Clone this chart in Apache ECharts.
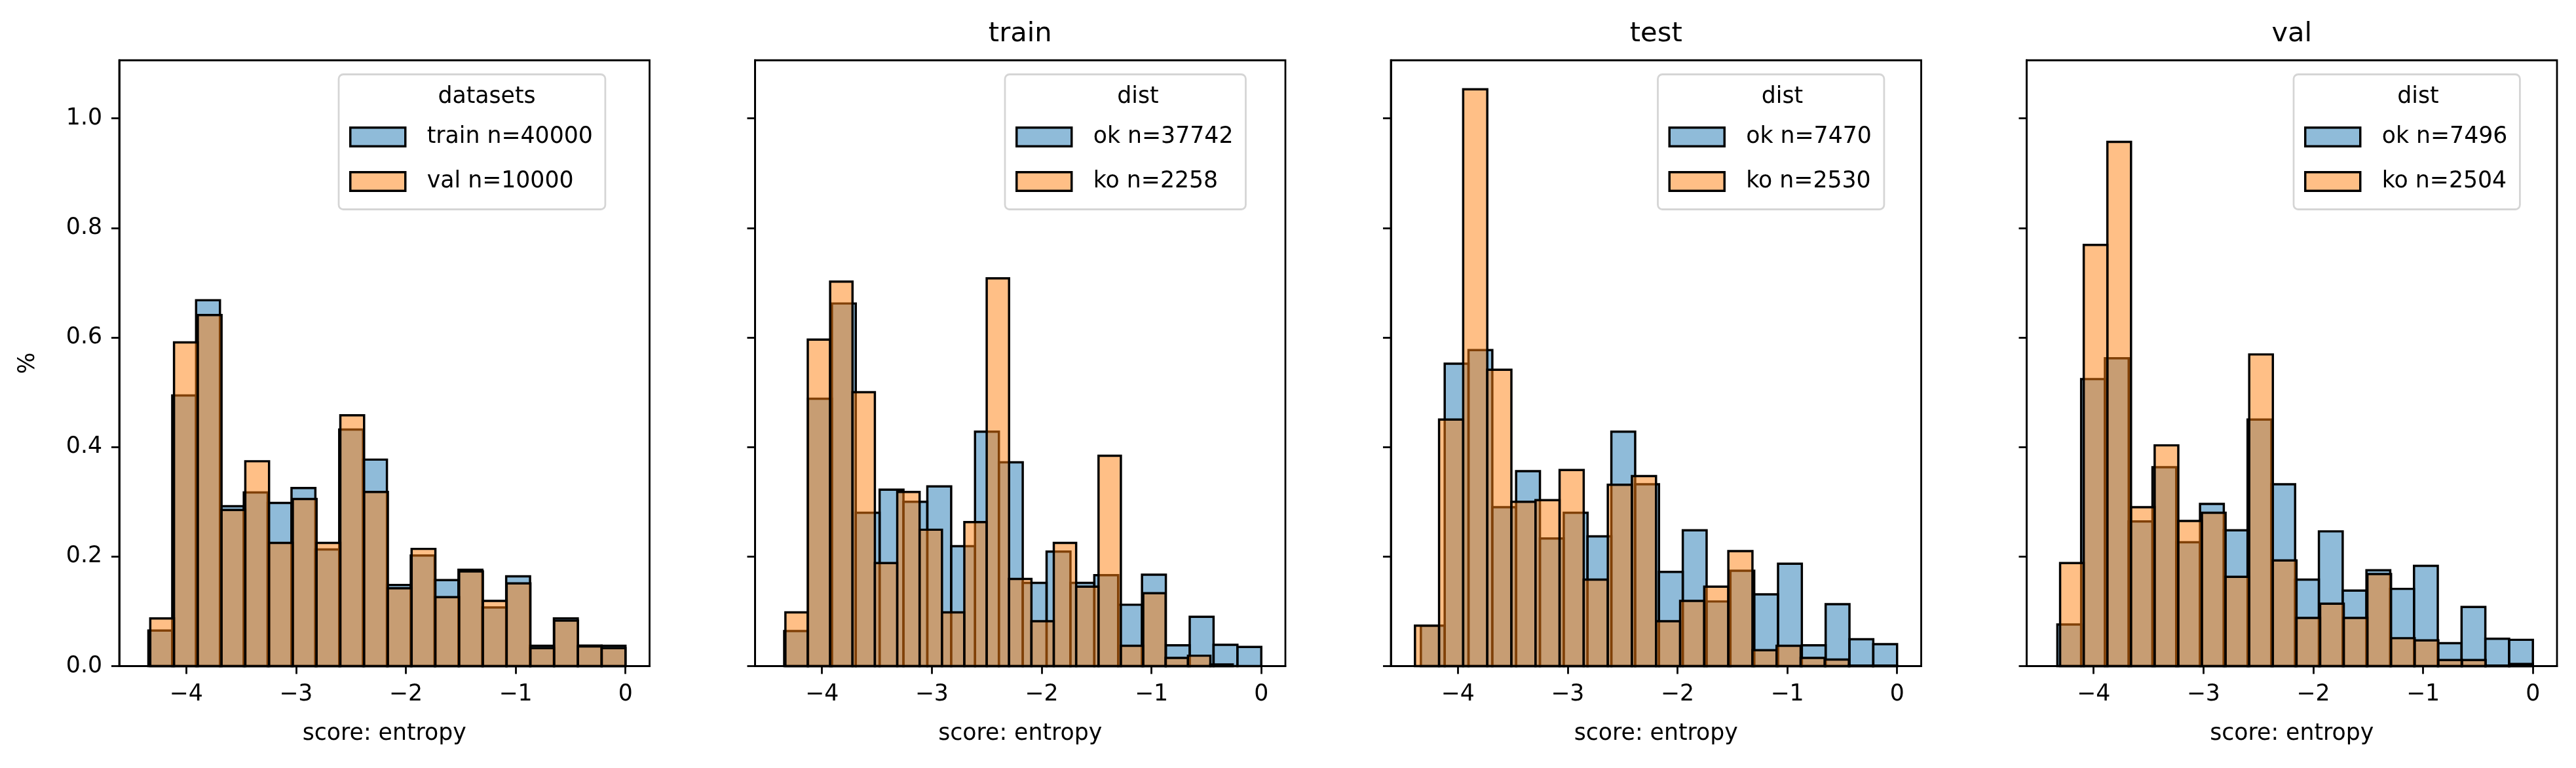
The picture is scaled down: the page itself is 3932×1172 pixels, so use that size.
<!DOCTYPE html>
<html>
<head>
<meta charset="utf-8">
<style>html,body{margin:0;padding:0;background:#fff}#c{width:3932px;height:1172px}</style>
<script src="https://cdn.jsdelivr.net/npm/echarts@6/dist/echarts.min.js"></script>
</head>
<body>
<div id="c"></div>
<script>
// ---- data ----
const xTicks = [-4, -3, -2, -1, 0];
const yTicks = [0, 0.2, 0.4, 0.6, 0.8, 1.0];
const xRange = [-4.6095, 0.2195];
const yRange = [0, 1.106];
const xLabel = 'score: entropy';
const yLabel = '%';
const panelTitles = ['', 'train', 'test', 'val'];
const legendTitles = ['datasets', 'dist', 'dist', 'dist'];

const p1aName = 'train n=40000';
const p1aBins = [-4.344, 0];
const p1aValues = [.065,.494,.668,.292,.317,.298,.325,.213,.432,.377,.148,.202,.157,.176,.107,.164,.037,.087,.0375,.037];
const p1bName = 'val n=10000';
const p1bBins = [-4.327, 0];
const p1bValues = [.087,.591,.641,.285,.374,.225,.305,.225,.458,.318,.142,.214,.126,.173,.119,.151,.033,.083,.036,.033];

const p2aName = 'ok n=37742';
const p2aBins = [-4.344, 0];
const p2aValues = [.064,.488,.662,.28,.322,.30,.328,.219,.428,.372,.152,.209,.152,.166,.112,.167,.038,.09,.039,.035];
const p2bName = 'ko n=2258';
const p2bBins = [-4.333, -0.26];
const p2bValues = [.098,.596,.702,.50,.188,.318,.249,.098,.263,.708,.159,.082,.225,.145,.384,.037,.133,.015,.019,.003];

const p3aName = 'ok n=7470';
const p3aBins = [-4.336, 0];
const p3aValues = [.074,.552,.577,.29,.356,.233,.28,.237,.428,.332,.172,.248,.118,.174,.131,.187,.038,.113,.049,.04];
const p3bName = 'ko n=2530';
const p3bBins = [-4.39, 0];
const p3bValues = [.074,.45,1.053,.541,.30,.303,.358,.158,.331,.347,.082,.119,.145,.21,.029,.037,.015,.012,.001,.001];

const p4aName = 'ok n=7496';
const p4aBins = [-4.33, 0];
const p4aValues = [.076,.524,.562,.264,.363,.226,.296,.248,.45,.332,.158,.246,.138,.175,.141,.183,.042,.108,.05,.048];
const p4bName = 'ko n=2504';
const p4bBins = [-4.305, 0];
const p4bValues = [.188,.769,.957,.29,.403,.265,.28,.163,.569,.193,.088,.114,.088,.168,.051,.047,.011,.011,.001,.004];

// ---- layout and style ----
const FONT = 'DejaVu Sans';
const FS = 34.7, TFS = 41.6, LW = 3.47, AW = 2.78;
const BLUE = 'rgba(31,119,180,0.5)', ORANGE = 'rgba(255,127,14,0.5)';
const gridLeft = [182, 1152.5, 2123, 3093.5];
const gridWidth = 809.5, gridTop = 92, gridHeight = 924.5;
const legendBox = [
  {left: 517, title: 743},
  {left: 1534, title: 1737},
  {left: 2530.5, title: 2720.5},
  {left: 3501, title: 3691}
];
const panels = [
  [[p1aName, p1aBins, p1aValues], [p1bName, p1bBins, p1bValues]],
  [[p2aName, p2aBins, p2aValues], [p2bName, p2bBins, p2bValues]],
  [[p3aName, p3aBins, p3aValues], [p3bName, p3bBins, p3bValues]],
  [[p4aName, p4aBins, p4aValues], [p4bName, p4bBins, p4bValues]]
];

function rows(bins, values) {
  const w = (bins[1] - bins[0]) / values.length;
  return values.map((v, i) => [bins[0] + i * w, bins[0] + (i + 1) * w, v]);
}
function renderBar(color) {
  return function (params, api) {
    const a = api.coord([api.value(0), api.value(2)]);
    const b = api.coord([api.value(1), 0]);
    return {
      type: 'rect',
      shape: {x: a[0], y: a[1], width: b[0] - a[0], height: b[1] - a[1]},
      style: {fill: color, stroke: '#000', lineWidth: LW}
    };
  };
}

const grid = [], xAxis = [], yAxis = [], series = [], legend = [], title = [];
panels.forEach((panel, p) => {
  grid.push({left: gridLeft[p], top: gridTop, width: gridWidth, height: gridHeight,
    show: true, borderColor: '#000', borderWidth: AW, backgroundColor: 'transparent'});
  xAxis.push({
    type: 'value', gridIndex: p, min: xRange[0], max: xRange[1], z: 5,
    name: xLabel, nameLocation: 'middle', nameGap: 86,
    nameTextStyle: {fontFamily: FONT, fontSize: FS, color: '#000'},
    splitLine: {show: false},
    axisLine: {show: true, onZero: false, lineStyle: {color: '#000', width: AW}},
    axisTick: {show: true, length: 12, customValues: xTicks, lineStyle: {color: '#000', width: AW}},
    axisLabel: {show: true, customValues: xTicks, margin: 26, fontFamily: FONT, fontSize: FS, color: '#000',
      formatter: v => String(v).replace('-', '\u2212')}
  });
  yAxis.push({
    type: 'value', gridIndex: p, min: yRange[0], max: yRange[1], z: 5,
    name: p === 0 ? yLabel : '', nameLocation: 'middle', nameGap: 122,
    nameTextStyle: {fontFamily: FONT, fontSize: FS, color: '#000'},
    splitLine: {show: false},
    axisLine: {show: true, onZero: false, lineStyle: {color: '#000', width: AW}},
    axisTick: {show: true, length: 12, customValues: yTicks, lineStyle: {color: '#000', width: AW}},
    axisLabel: {show: p === 0, customValues: yTicks, margin: 26, fontFamily: FONT, fontSize: FS, color: '#000',
      formatter: v => v.toFixed(1)}
  });
  const colors = [BLUE, ORANGE];
  panel.forEach((h, k) => {
    series.push({
      type: 'custom', name: h[0], xAxisIndex: p, yAxisIndex: p, z: 2 + k, silent: true, clip: false,
      animation: false,
      data: rows(h[1], h[2]), encode: {x: [0, 1], y: 2},
      itemStyle: {color: colors[k], borderColor: '#000', borderWidth: LW},
      renderItem: renderBar(colors[k])
    });
  });
  legend.push({
    show: true, orient: 'vertical', left: legendBox[p].left, top: 113.5, icon: 'rect',
    selectedMode: false, itemWidth: 84, itemHeight: 28.5, itemGap: 33,
    padding: [78, 19, 25, 16], align: 'left',
    backgroundColor: 'rgba(255,255,255,0.8)', borderColor: '#d5d5d5', borderWidth: AW, borderRadius: 7,
    textStyle: {fontFamily: FONT, fontSize: FS, color: '#000', lineHeight: 28, padding: [0, 0, 0, 28]},
    data: panel.map((h, k) => ({name: h[0], icon: 'rect',
      itemStyle: {color: colors[k], borderColor: '#000', borderWidth: LW}}))
  });
  title.push({text: legendTitles[p], left: legendBox[p].title, top: 148, textAlign: 'center', textVerticalAlign: 'middle', padding: 0,
    textStyle: {fontFamily: FONT, fontSize: FS, fontWeight: 'normal', color: '#000'}});
  if (panelTitles[p]) {
    title.push({text: panelTitles[p], left: gridLeft[p] + gridWidth / 2, top: 52, textAlign: 'center', textVerticalAlign: 'middle', padding: 0,
      textStyle: {fontFamily: FONT, fontSize: TFS, fontWeight: 'normal', color: '#000'}});
  }
});

const chart = echarts.init(document.getElementById('c'), null, {renderer: 'canvas', width: 3932, height: 1172});
chart.setOption({animation: false, backgroundColor: '#fff', grid, xAxis, yAxis, series, legend, title});
</script>
</body>
</html>
